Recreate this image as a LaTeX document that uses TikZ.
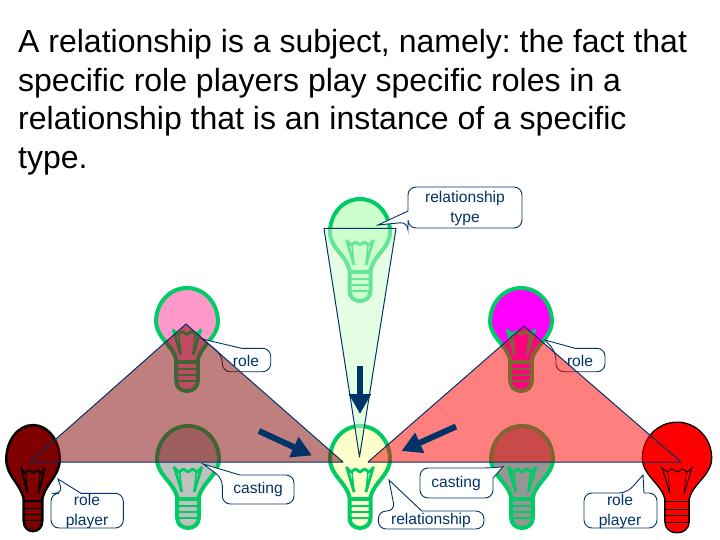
\documentclass[tikz,border=0pt]{standalone}
\usepackage{fontspec}
\setmainfont{Liberation Sans}
\usetikzlibrary{arrows.meta}
\definecolor{navy}{HTML}{003366}
\definecolor{lampgreen}{HTML}{00CC66}
\definecolor{palegreen}{HTML}{CCFFCC}
\definecolor{pinkbulb}{HTML}{FF99CC}
\definecolor{magentabulb}{HTML}{FF00FF}
\definecolor{darkredbulb}{HTML}{800000}
\definecolor{redbulb}{HTML}{FF0000}
\definecolor{yellowbulb}{HTML}{FFFFCC}
\definecolor{greyA}{HTML}{C0C0C0}
\definecolor{greyB}{HTML}{969696}
\tikzset{
  callout/.style={draw=navy,fill=white,line width=0.9bp,rounded corners=8bp},
  calltext/.style={text=navy,font=\fontsize{15.6bp}{19.5bp}\selectfont,align=center,inner sep=0pt},
  wedge/.style={draw=navy,line width=1bp,line join=round,fill opacity=0.5,draw opacity=1},
  bigarrow/.style={draw=navy,line width=6bp,-{Triangle[length=20bp,width=21bp]}},
}
% cx, top, xscale, yscale, fill, line colour, line width
\newcommand{\lampe}[7]{%
\begin{scope}[shift={(#1,#2)},xscale=#3,yscale=#4,draw=#6,line width=#7bp,line join=round]
  \fill[#5,draw=#6] (0,2) .. controls (17,2) and (30,17) .. (30,35)
    .. controls (30,51) and (14,58) .. (10.5,73) -- (10.5,94)
    .. controls (10.5,100) and (6,104) .. (0,104)
    .. controls (-6,104) and (-10.5,100) .. (-10.5,94) -- (-10.5,73)
    .. controls (-14,58) and (-30,51) .. (-30,35)
    .. controls (-30,17) and (-17,2) .. (0,2) -- cycle;
  \draw (-10.5,75) -- (10.5,75);
  \draw[line width=0.5*#7bp] (-10.5,82) -- (10.5,82) (-10.5,88) -- (10.5,88) (-10.5,94) -- (10.5,94);
  \draw[line width=0.7*#7bp] (-14,43) -- (-9,48) -- (-4.5,45) -- (0,48) -- (4.5,45) -- (9,48) -- (14,43);
  \draw[line width=0.7*#7bp] (-13,44) -- (-6,68) (13,44) -- (6,68);
  \draw[line width=0.4*#7bp] (-8,48) -- (-6,68) (8,48) -- (6,68);
\end{scope}}
\begin{document}
\begin{tikzpicture}[x=1bp,y=-1bp]
\useasboundingbox (0,0) rectangle (720,540);
\node[anchor=north west,inner sep=0pt,align=left,font=\frenchspacing\fontsize{32bp}{38.5bp}\selectfont] (title) at (18,29.5)
  {A relationship is a subject, namely: the fact that\\
   specific role players play specific roles in a\\
   relationship that is an instance of a specific\\
   type.};
% bulbs
\lampe{360}{197}{1}{1}{palegreen}{lampgreen}{4}
\lampe{187}{286}{1.03}{1.01}{pinkbulb}{lampgreen}{4}
\lampe{521}{286}{1.03}{1.01}{magentabulb}{lampgreen}{4}
\lampe{33}{423}{.89}{1.04}{darkredbulb}{black}{2.5}
\lampe{188}{424}{1.03}{1}{greyA}{lampgreen}{4}
\lampe{522}{424}{1.03}{1}{greyB}{lampgreen}{4}
\lampe{360}{424}{1}{1}{yellowbulb}{lampgreen}{4}
\lampe{677}{420}{1.156}{1.085}{redbulb}{black}{1.3}
% callouts
\draw[callout] (408,211) -- (408,187) -- (522,187) -- (522,228) -- (408,228) -- (408,222) [sharp corners] -- (378,225) -- cycle;
\node[calltext] (ltype) at (465,208.5) {relationship\\type};
\draw[callout] (241.7,348.3) -- (270.7,348.3) -- (270.7,371.7) -- (222.3,371.7) -- (222.3,355) [sharp corners] -- (202,339) -- cycle;
\node[calltext] (lrolea) at (246,360.5) {role};
\draw[callout] (575,348.3) -- (605,348.3) -- (605,371.7) -- (556,371.7) -- (556,352) [sharp corners] -- (545,340) -- cycle;
\node[calltext] (lroleb) at (580,360.5) {role};
\draw[callout] (240,475) -- (294,475) -- (294,504) -- (222.3,504) -- (222.3,478) [sharp corners] -- (203,464) -- cycle;
\node[calltext] (lcasta) at (258,489.5) {casting};
\draw[callout] (493,478) -- (493,498) -- (420,498) -- (420,468) -- (491,468) [sharp corners] -- (503,466.7) -- cycle;
\node[calltext] (lcastb) at (456,483.5) {casting};
\draw[callout] (421.7,511) -- (484,511) -- (484,529) -- (378.3,529) -- (378.3,511) -- (395,511) [sharp corners] -- (389,480) -- cycle;
\node[calltext] (lrel) at (431,520.5) {relationship};
\draw[callout] (81,493.3) -- (123.3,493.3) -- (123.3,528) -- (51,528) -- (51,493.3) -- (63,493.3) [sharp corners] -- (58,479) -- cycle;
\node[calltext] (lplayera) at (87,511.5) {role\\player};
\draw[callout] (644,493) -- (657,493) -- (657,528) -- (584,528) -- (584,493) -- (627,493) [sharp corners] -- (643,475) -- cycle;
\node[calltext] (lplayerb) at (620,511.5) {role\\player};
% wedges
\draw[wedge,fill=palegreen] (324,228.5) -- (396,228.5) -- (359.5,457) -- cycle;
\draw[wedge,fill=darkredbulb] (186,324) -- (343,462) -- (30,462) -- cycle;
\draw[wedge,fill=redbulb] (524,326) -- (681,462) -- (368,462) -- cycle;
% arrows
\coordinate (a1) at (360,366); \coordinate (a2) at (360,414);
\coordinate (b1) at (259,431); \coordinate (b2) at (312,455.5);
\coordinate (c1) at (456,426.5); \coordinate (c2) at (401.5,451);
\draw[bigarrow] (a1) -- (a2);
\draw[bigarrow] (b1) -- (b2);
\draw[bigarrow] (c1) -- (c2);
\end{tikzpicture}
\end{document}
